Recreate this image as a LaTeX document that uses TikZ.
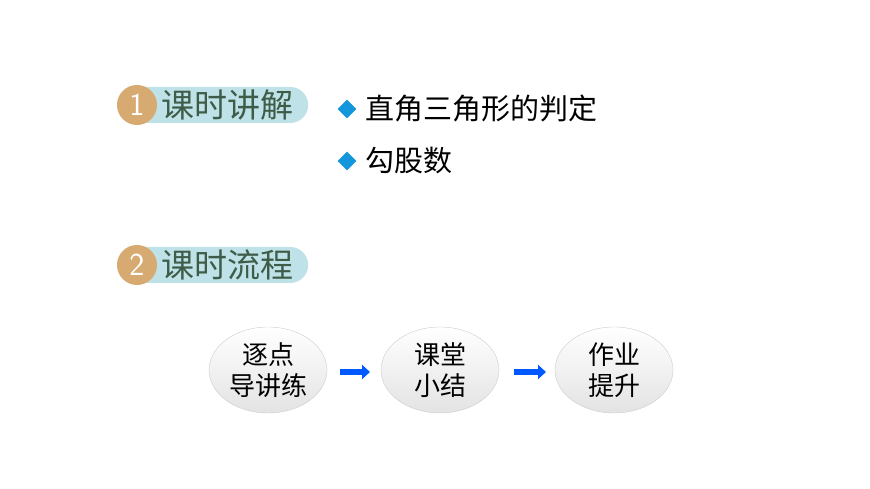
\documentclass[tikz,border=0pt]{standalone}
\usepackage{fontspec}
\newfontfamily\cjk{Noto Sans CJK SC}
\usetikzlibrary{shapes.geometric,arrows.meta}
\definecolor{tan}{RGB}{214,170,112}
\definecolor{pill}{RGB}{190,226,232}
\definecolor{ttl}{RGB}{62,92,72}
\definecolor{dia}{RGB}{20,150,220}
\tikzset{
 pillbox/.style={fill=pill,rounded corners=18pt,minimum height=36pt,minimum width=180pt,anchor=west,inner sep=0},
 badge/.style={circle,fill=tan,minimum size=40pt,inner sep=0,text=white,font=\fontsize{32}{32}\selectfont\sffamily},
 ttltext/.style={anchor=west,text=ttl,font=\cjk\fontsize{33}{33}\selectfont,inner sep=0},
 bul/.style={diamond,fill=dia,minimum size=19pt,inner sep=0},
 bultext/.style={anchor=west,font=\cjk\fontsize{29}{29}\selectfont,inner sep=0},
 oval/.style={ellipse,draw=gray!40,minimum width=118pt,minimum height=86pt,inner sep=0,
   top color=white,bottom color=gray!22,font=\cjk\fontsize{26}{31}\selectfont,align=center},
 arr/.style={-{Triangle[length=8pt,width=14pt]},line width=6pt,draw=blue!65!cyan}
}
\begin{document}
\begin{tikzpicture}[x=1pt,y=1pt]
\useasboundingbox (0,0) rectangle (870,489);
\node[pillbox] (p1) at (128,384) {};
\node[badge] (b1) at (137,384) {1};
\node[ttltext] (t1) at (161,384) {课时讲解};
\node[pillbox] (p2) at (128,224) {};
\node[badge] (b2) at (137,224) {2};
\node[ttltext] (t2) at (161,224) {课时流程};
\node[bul] (d1) at (347,380) {};
\node[bultext] (s1) at (365,380) {直角三角形的判定};
\node[bul] (d2) at (347,328) {};
\node[bultext] (s2) at (365,328) {勾股数};
\node[oval] (e1) at (268,119) {逐点\\导讲练};
\node[oval] (e2) at (440,119) {课堂\\小结};
\node[oval] (e3) at (614,119) {作业\\提升};
\coordinate (a1s) at (340,117); \coordinate (a1e) at (370,117);
\coordinate (a2s) at (514,117); \coordinate (a2e) at (546,117);
\draw[arr] (a1s) -- (a1e);
\draw[arr] (a2s) -- (a2e);
\end{tikzpicture}
\end{document}
